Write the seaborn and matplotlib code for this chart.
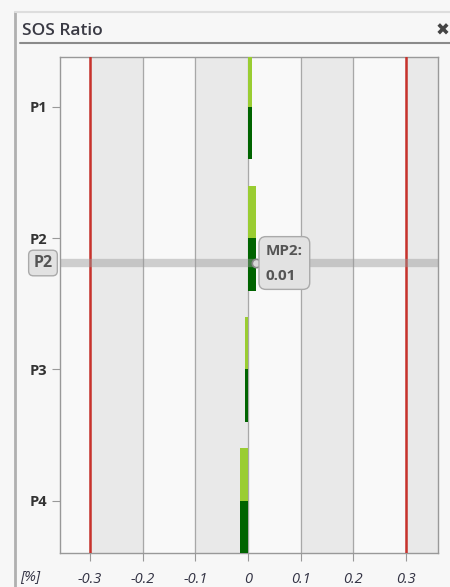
import numpy as np
import pandas as pd
import seaborn as sns
import matplotlib.pyplot as plt
from matplotlib.lines import Line2D
import matplotlib.transforms as mtransforms

# data
positions = ["P1", "P2", "P3", "P4"]
series = ["MP1", "MP2"]
mp1_values = [0.0075, 0.015, -0.005, -0.015]
mp2_values = [0.0075, 0.015, -0.005, -0.015]
x_ticks = [-0.3, -0.2, -0.1, 0, 0.1, 0.2, 0.3]
x_tick_labels = ["-0.3", "-0.2", "-0.1", "0", "0.1", "0.2", "0.3"]
limit = 0.3
hover_pos = 1.19
hover_value = 0.015
hover_text = "MP2:\n0.01"

df = pd.DataFrame({
    "pos": positions * 2,
    "series": [series[0]] * 4 + [series[1]] * 4,
    "value": mp1_values + mp2_values,
})

sns.set_style("white")
plt.rcParams["font.family"] = ["Open Sans", "DejaVu Sans"]

fig = plt.figure(figsize=(4.5, 5.87), dpi=100, facecolor="#f7f7f7")
ax = fig.add_axes([60 / 450, 1 - 553 / 587, 378 / 450, 496 / 587])
ax.set_facecolor("#f9f9f9")

# alternating bands
for lo in [-0.3, -0.1, 0.1, 0.3]:
    ax.axvspan(lo, lo + 0.1, color="#e9e9e9", zorder=0)
for xv in x_ticks:
    ax.axvline(xv, color="#a8a8a8", lw=0.9, zorder=1)

sns.barplot(data=df, x="value", y="pos", hue="series", orient="h",
            palette=["#9acd32", "#006400"], saturation=1, width=0.8, dodge=True,
            errorbar=None, ax=ax, legend=False, zorder=3, linewidth=0)

for xv in (-limit, limit):
    ax.axvline(xv, color="#c8322c", lw=1.8, zorder=4)

ax.set_xlim(-0.357, 0.361)
ax.set_ylim(3.4, -0.38)

# crosshair
ax.axhline(hover_pos, color="#9a9a9a", lw=6, alpha=0.45, zorder=5)
ax.plot([hover_value], [hover_pos], marker="o", ms=6, mfc="#d8d8d8",
        mec="#888888", mew=1.2, zorder=7)
ax.text(0.034, hover_pos, hover_text, fontsize=11, fontweight="bold",
        color="#555555", va="center", ha="left", linespacing=2.0, zorder=8,
        bbox=dict(boxstyle="round,pad=0.45", fc="#e2e2e2", ec="#aaaaaa", lw=1))
trans = mtransforms.blended_transform_factory(ax.transAxes, ax.transData)
ax.text(-0.045, hover_pos, "P2", transform=trans, fontsize=11.5,
        fontweight="bold", color="#555555", ha="center", va="center",
        clip_on=False, zorder=8,
        bbox=dict(boxstyle="round,pad=0.3", fc="#e2e2e2", ec="#aaaaaa", lw=1))

ax.set_xticks(x_ticks)
ax.set_xticklabels(x_tick_labels, fontstyle="italic", fontsize=10.5, color="#333344")
ax.set_yticks(range(len(positions)))
ax.set_yticklabels(positions, fontsize=10.5, fontweight="bold", color="#333333")
ax.tick_params(axis="both", length=6, width=0.8, color="#999999", left=True, bottom=True)
ax.tick_params(axis="y", pad=3)
ax.tick_params(axis="x", pad=8)
ax.set_xlabel("")
ax.set_ylabel("")
for sp in ax.spines.values():
    sp.set_color("#999999")
    sp.set_linewidth(1)

fig.text(20 / 450, 1 - 577 / 587, "[%]", fontstyle="italic", fontsize=10.5,
         color="#333344", va="center", ha="left")

# window chrome
fig.text(22 / 450, 1 - 31 / 587, "SOS Ratio", fontsize=12.5, fontweight="semibold",
         color="#3a3a44", va="center", ha="left")
fig.text(449 / 450, 1 - 31 / 587, "\u2716", fontsize=12, color="#444444",
         va="center", ha="right", family=["DejaVu Sans"])
fig.add_artist(Line2D([20 / 450, 1], [1 - 43 / 587] * 2, color="#8a8a8a", lw=1.5))
fig.add_artist(Line2D([15 / 450] * 2, [0, 1 - 12 / 587], color="#b0b0b0", lw=2))
fig.add_artist(Line2D([15 / 450, 1], [1 - 12 / 587] * 2, color="#dddddd", lw=1.5))

fig.savefig("out.png", dpi=100, facecolor=fig.get_facecolor())
